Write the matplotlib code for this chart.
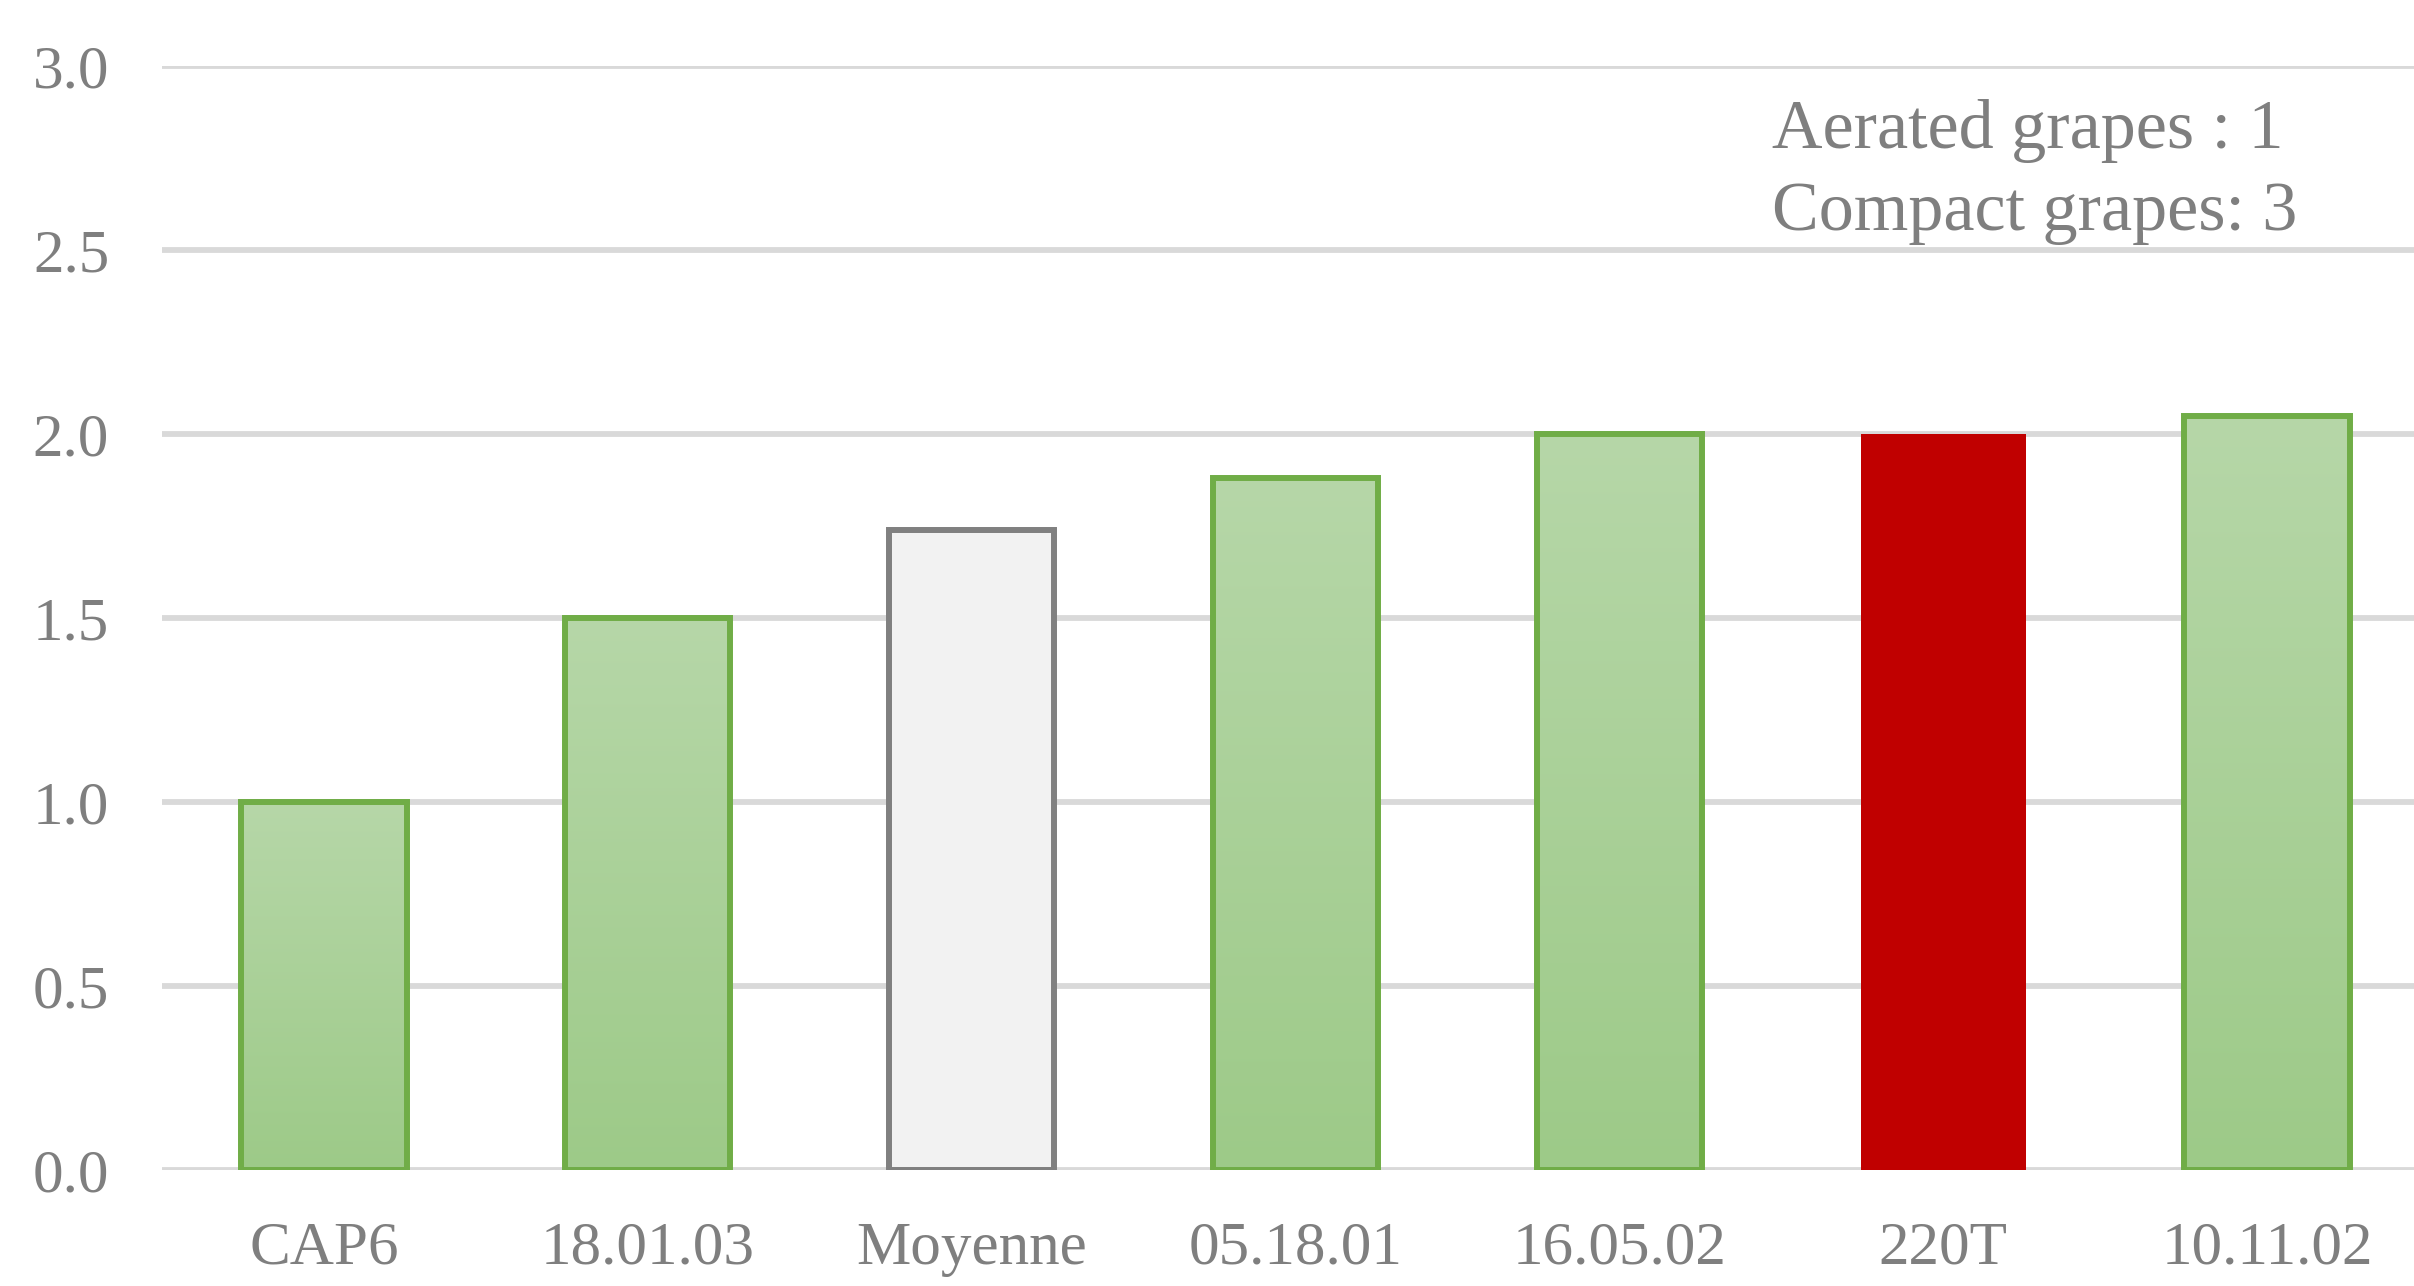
import matplotlib
matplotlib.use('Agg')
import matplotlib.pyplot as plt
import numpy as np
from matplotlib.colors import LinearSegmentedColormap

plt.rcParams['font.family'] = ['Liberation Serif', 'DejaVu Serif']

# data
categories = ['CAP6', '18.01.03', 'Moyenne', '05.18.01', '16.05.02', '220T', '10.11.02']
values = [1.0, 1.5, 1.74, 1.88, 2.0, 2.0, 2.05]
kinds = ['green', 'green', 'grey', 'green', 'green', 'red', 'green']
yticks = [0.0, 0.5, 1.0, 1.5, 2.0, 2.5, 3.0]
note_lines = ['Aerated grapes : 1', 'Compact grapes: 3']

W, H = 2414, 1286
fig = plt.figure(figsize=(W / 100, H / 100), dpi=100)
ax = fig.add_axes([162 / W, 1 - 1170 / H, (2429 - 162) / W, (1170 - 66) / H])

grad = LinearSegmentedColormap.from_list('g', ['#9DCA88', '#B6D7A8'])
grey_txt = '#7F7F7F'
bw = 0.51
x = np.arange(len(categories))

for i, (v, k) in enumerate(zip(values, kinds)):
    if k == 'green':
        b = ax.bar(i, v, width=bw, color='none', edgecolor='#70AD47', linewidth=4.3, zorder=4)[0]
        img = ax.imshow(np.linspace(0, 1, 256).reshape(-1, 1), cmap=grad, origin='lower',
                        extent=[i - bw / 2, i + bw / 2, 0, v], aspect='auto', zorder=3)
        img.set_clip_path(b)
    elif k == 'grey':
        ax.bar(i, v, width=bw, color='#F2F2F2', edgecolor='#808080', linewidth=4.3, zorder=3)
    else:
        ax.bar(i, v, width=bw, color='#C00000', edgecolor='none', zorder=3)

ax.set_xlim(-0.5, len(categories) - 0.5)
ax.set_ylim(0, 3.0)
ax.set_xticks(x)
ax.set_xticklabels(categories)
ax.set_yticks(yticks)
ax.set_yticklabels(['%.1f' % t for t in yticks])
ax.tick_params(length=0, labelsize=44, labelcolor=grey_txt)
ax.tick_params(axis='x', pad=37)
ax.tick_params(axis='y', pad=38)
for s in ax.spines.values():
    s.set_visible(False)
ax.yaxis.grid(True, color='#D9D9D9', linewidth=4.2, zorder=0)
ax.set_axisbelow(True)

fig.text(1772 / W, 1 - 148 / H, note_lines[0], fontsize=50.5, color=grey_txt, va='baseline')
fig.text(1772 / W, 1 - 230 / H, note_lines[1], fontsize=50.5, color=grey_txt, va='baseline')

fig.savefig('out.png', dpi=100)
